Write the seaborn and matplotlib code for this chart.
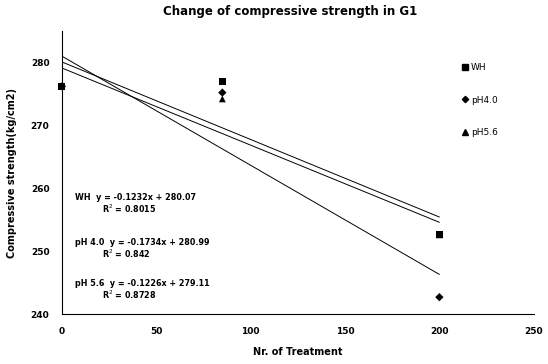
import pandas as pd
import numpy as np
import matplotlib
matplotlib.use("Agg")
import matplotlib.pyplot as plt
import seaborn as sns

# data
treatments = [0, 85, 200]
wh = [276.2, 277.0, 252.6]
ph40 = [276.2, 275.2, 242.7]
ph56 = [276.2, 274.2, 252.6]
series = ["WH", "pH4.0", "pH5.6"]

# trend line coefficients (from the equations on the chart)
slopes = [-0.1232, -0.1734, -0.1226]
intercepts = [280.07, 280.99, 279.11]
r2 = ["0.8015", "0.842", "0.8728"]
eq_names = ["WH", "pH 4.0", "pH 5.6"]

sns.set_style("white")
plt.rcParams["font.family"] = ["DejaVu Sans"]
plt.rcParams["text.color"] = "black"
plt.rcParams["axes.labelcolor"] = "black"
plt.rcParams["xtick.color"] = "black"
plt.rcParams["ytick.color"] = "black"

df = pd.DataFrame({
    "x": treatments * 3,
    "y": ph40 + ph56 + wh,
    "series": ["pH4.0"] * 3 + ["pH5.6"] * 3 + ["WH"] * 3,
})

fig = plt.figure(figsize=(5.48, 3.64), dpi=100)
ax = fig.add_axes([0.113, 0.137, 0.861, 0.778])

# trend lines
for m, b in zip(slopes, intercepts):
    xs = np.array([0, 200])
    sns.lineplot(x=xs, y=m * xs + b, color="black", lw=0.7, ax=ax)

sns.scatterplot(data=df, x="x", y="y", style="series", hue="series",
                markers={"WH": "s", "pH4.0": "D", "pH5.6": "^"},
                palette={"WH": "black", "pH4.0": "black", "pH5.6": "black"},
                size="series", sizes={"WH": 26, "pH4.0": 18, "pH5.6": 24},
                edgecolor="black", linewidth=0, ax=ax,
                zorder=3, legend=False, clip_on=False)

ax.set_xlim(0, 250)
ax.set_ylim(240, 285)
ax.set_xticks([0, 50, 100, 150, 200, 250])
ax.set_yticks([240, 250, 260, 270, 280])
ax.tick_params(axis="both", labelsize=6.5, length=3, width=0.6)
ax.tick_params(axis="x", direction="inout", pad=8)
ax.tick_params(axis="y", direction="out", pad=6)
for lab in ax.get_xticklabels() + ax.get_yticklabels():
    lab.set_fontweight("bold")
sns.despine(ax=ax)
for side in ["left", "bottom"]:
    ax.spines[side].set_linewidth(0.8)
    ax.spines[side].set_color("black")

ax.set_xlabel("Nr. of Treatment", fontsize=7, fontweight="bold", labelpad=8)
ax.set_ylabel("Compressive strength(kg/cm2)", fontsize=7, fontweight="bold", labelpad=10)
fig.suptitle("Change of compressive strength in G1", fontsize=8.5,
             fontweight="bold", x=0.53, y=0.985)

# legend
handles = [plt.Line2D([], [], marker=mk, color="black", ls="none", markersize=ms)
           for mk, ms in zip(["s", "D", "^"], [4.5, 3.2, 4])]
ax.legend(handles, series, loc="upper left", bbox_to_anchor=(0.83, 0.915),
          frameon=False, fontsize=6.5, labelspacing=2.6, handletextpad=0.2,
          handlelength=0.8)

# equations
eq_y = [258.2, 251.0, 244.5]
for name, m, b, r, yy in zip(eq_names, slopes, intercepts, r2, eq_y):
    ax.text(7, yy, f"{name}  y = {m:.4f}x + {b:.2f}", fontsize=5.8, fontweight="bold")
    ax.text(21, yy - 2.1, f"R$^2$ = {r}", fontsize=5.8, fontweight="bold")

fig.savefig("out.png", dpi=100)
